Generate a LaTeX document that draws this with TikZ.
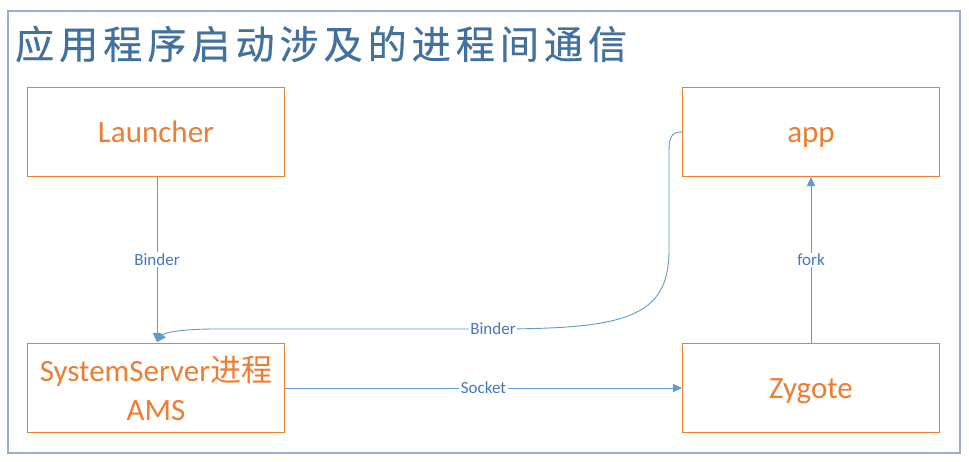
\documentclass[tikz,border=0pt]{standalone}
\usepackage{fontspec}
\setmainfont{Carlito}
\newfontfamily\cjk{Noto Sans CJK SC}
\newfontfamily\cjktitle[LetterSpace=13,FakeBold=0.5]{Noto Sans CJK SC}
\usetikzlibrary{arrows.meta}
\definecolor{frameblue}{RGB}{150,176,206}
\definecolor{titleblue}{RGB}{65,113,156}
\definecolor{boxorange}{RGB}{237,125,49}
\definecolor{linkblue}{RGB}{91,155,213}
\definecolor{labelblue}{RGB}{68,120,190}
\tikzset{
  procbox/.style={draw=boxorange, line width=1pt, minimum width=257pt, minimum height=89pt,
    inner sep=0pt, text=boxorange, font=\fontsize{31}{39}\selectfont, anchor=north west},
  singlebox/.style={procbox, text height=27pt, text depth=6pt},
  link/.style={draw=linkblue, line width=0.9pt, -{Triangle[length=9pt,width=8pt]}},
  linklabel/.style={fill=white, text=labelblue, font=\fontsize{17}{20}\selectfont, inner sep=1.5pt}
}
\begin{document}
\begin{tikzpicture}[x=1pt,y=-1pt]
\useasboundingbox (0,0) rectangle (969,461);
\fill[white] (0,0) rectangle (969,461);
\node[draw=frameblue, line width=1.6pt, minimum width=952pt, minimum height=442pt, anchor=north west, inner sep=0pt] (frame) at (7,10) {};
\node[anchor=west, text=titleblue, inner sep=0pt, font=\fontsize{39}{44}\cjktitle] (title) at (15,44) {应用程序启动涉及的进程间通信};
\node[singlebox] (launcher) at (27,87) {Launcher};
\node[singlebox] (app) at (682,87) {app};
\node[procbox, align=center] (ss) at (27,343) {SystemServer{\cjk 进程}\\AMS};
\node[singlebox] (zygote) at (682,343) {Zygote};
\coordinate (tip) at (157,342);
\draw[link] (launcher.south -| tip) -- node[linklabel, pos=0.5] (lb1) {Binder} (tip);
\draw[link] (app.west) .. controls (670,131.5) and (669,140) .. (669,152) -- (669,250)
  .. controls (669,318) and (625,329) .. (493,329) node[linklabel] (lb2) {Binder}
  -- (215,329) .. controls (185,329) and (165,332) .. (tip);
\draw[link] (ss.east |- 0,388) -- node[linklabel, pos=0.5] (lb3) {Socket} (zygote.west |- 0,388);
\draw[link] (zygote.north -| 811,0) -- node[linklabel, pos=0.5] (lb4) {fork} (app.south -| 811,0);
\end{tikzpicture}
\end{document}
